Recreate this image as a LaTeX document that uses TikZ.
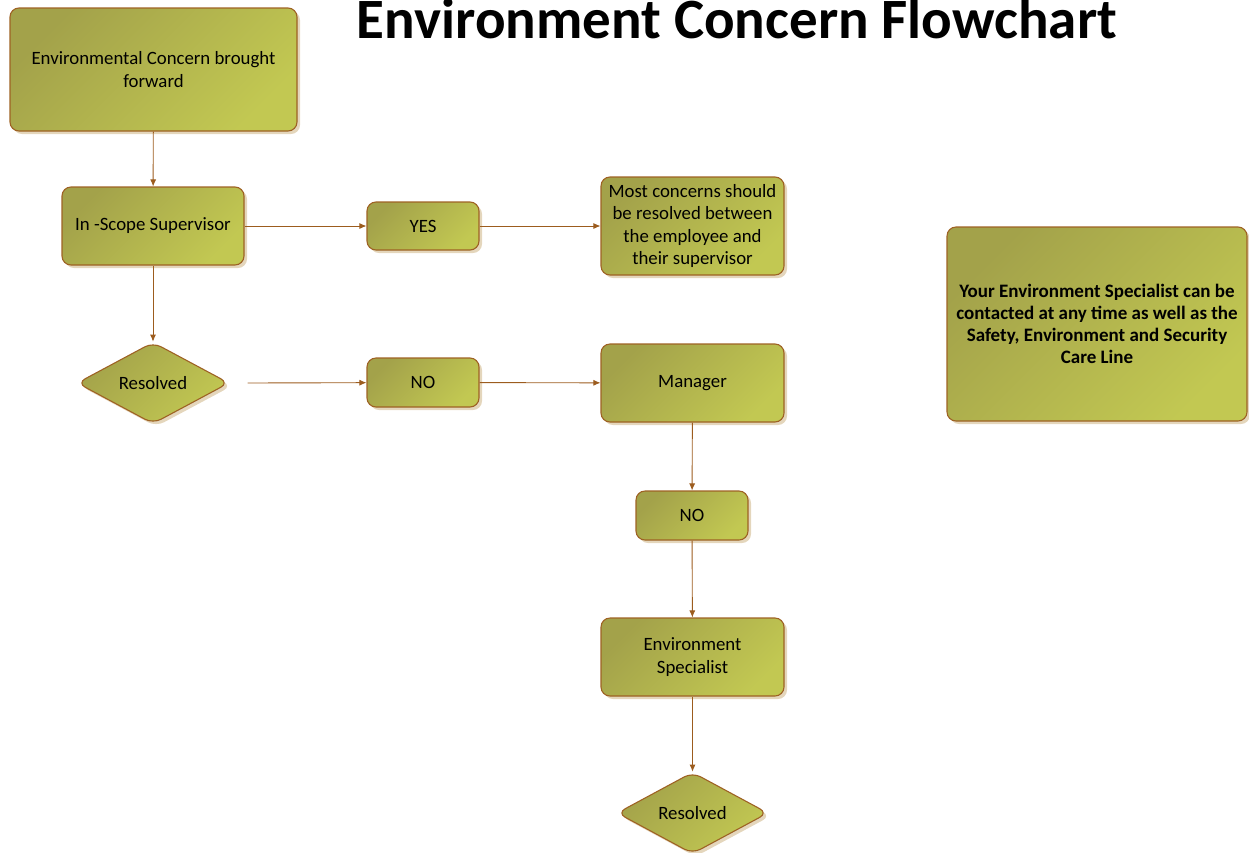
\documentclass[tikz,border=0pt]{standalone}
\usepackage{fontspec}
\setmainfont{Carlito}
\usetikzlibrary{shapes.geometric,shadows,arrows.meta}
\definecolor{olivedark}{RGB}{163,162,74}
\definecolor{olivelight}{RGB}{194,200,82}
\definecolor{bordercol}{RGB}{158,98,36}
\definecolor{arrowcol}{RGB}{156,92,30}
\definecolor{shadowcol}{RGB}{228,214,188}
\tikzset{
  base/.style={draw=bordercol, line width=1.1pt, top color=olivedark, bottom color=olivelight, shading angle=45,
    drop shadow={shadow xshift=3pt, shadow yshift=-3pt, fill=shadowcol, opacity=1},
    align=center, inner sep=0pt, font=\fontsize{18.8}{22.5}\selectfont, text=black},
  box/.style={base, rectangle, rounded corners=9pt},
  dec/.style={base, diamond, rounded corners=9pt},
  conn/.style={draw=arrowcol, line width=0.9pt, -{Latex[length=7pt,width=6pt]}},
}
\begin{document}
\begin{tikzpicture}[x=1pt,y=-1pt]
\useasboundingbox (0,0) rectangle (1249,852);
\node[font=\fontsize{57}{64}\selectfont\bfseries, anchor=base, inner sep=0pt] (title) at (737,38.5) {Environment Concern Flowchart};
\node[box, minimum width=287pt, minimum height=123pt] (start) at (153.5,69.5) {Environmental Concern brought\\forward};
\node[box, minimum width=182pt, minimum height=78pt] (sup) at (153,226) {\raisebox{-1.5pt}{In -Scope Supervisor}};
\node[dec, minimum width=152pt, minimum height=78pt] (res1) at (153,383) {\raisebox{-1pt}{Resolved}};
\node[box, minimum width=112pt, minimum height=48pt] (yes) at (423,226) {YES};
\node[box, minimum width=183pt, minimum height=98pt] (most) at (692.5,226) {Most concerns should\\be resolved between\\the employee and\\their supervisor};
\node[box, minimum width=112pt, minimum height=49pt] (no1) at (423,382.5) {NO};
\node[box, minimum width=183pt, minimum height=78pt] (mgr) at (692.5,383) {\raisebox{-1.5pt}{Manager}};
\node[box, minimum width=112pt, minimum height=49pt] (no2) at (692,515.5) {NO};
\node[box, minimum width=183pt, minimum height=78pt] (spec) at (692.5,657) {Environment\\Specialist};
\node[dec, minimum width=151pt, minimum height=78pt] (res2) at (692.5,813) {\raisebox{-1pt}{Resolved}};
\node[box, minimum width=300pt, minimum height=194pt, font=\fontsize{19}{22}\selectfont\bfseries] (info) at (1097,324) {Your Environment Specialist can be\\contacted at any time as well as the\\Safety, Environment and Security\\Care Line};
\draw[conn] (start) -- (sup);
\draw[conn] (sup) -- (res1);
\draw[conn] (sup) -- (yes);
\draw[conn] (yes) -- (most);
\draw[conn] ([xshift=18pt]res1.east) -- (no1);
\draw[conn] (no1) -- (mgr);
\draw[conn] (mgr) -- (no2);
\draw[conn] (no2) -- (spec);
\draw[conn] (spec) -- (res2);
\end{tikzpicture}
\end{document}
